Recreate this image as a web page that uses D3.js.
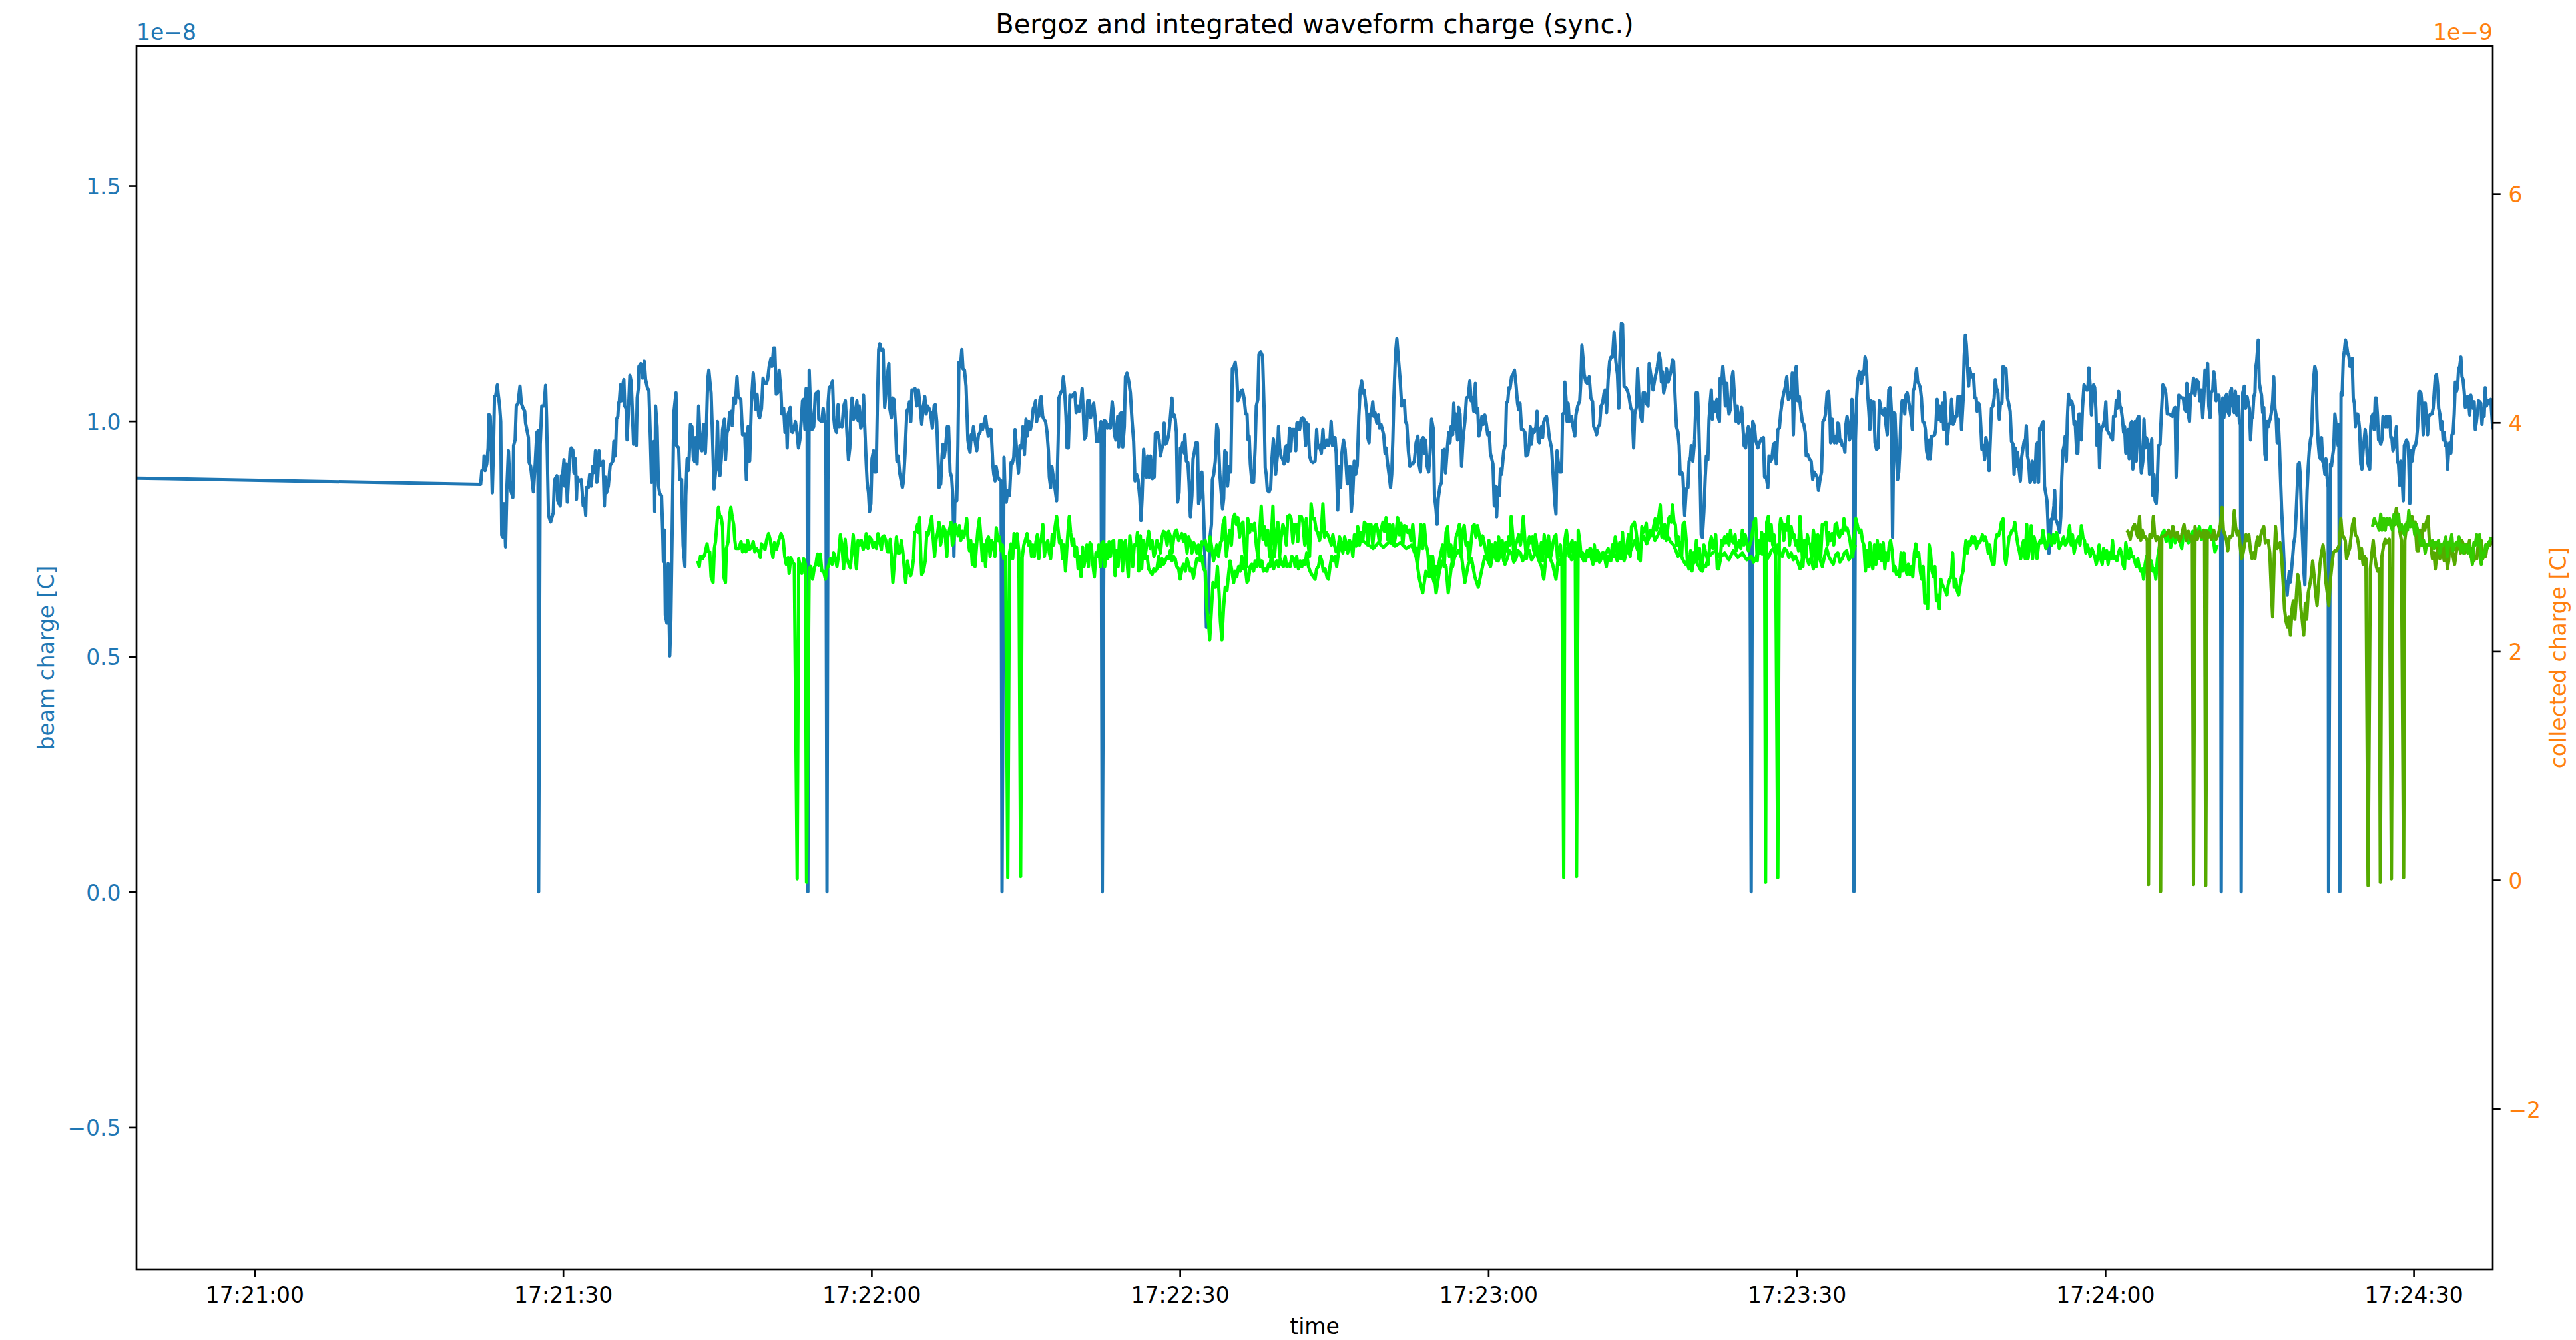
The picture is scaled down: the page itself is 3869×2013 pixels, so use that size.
<!DOCTYPE html>
<html>
<head>
<meta charset="utf-8">
<script src="https://cdn.jsdelivr.net/npm/d3@7"></script>
<style>
  html, body { margin: 0; padding: 0; background: #ffffff; }
  svg { display: block; font-family: "DejaVu Sans", sans-serif; }
</style>
</head>
<body>
<svg id="chart" width="3869" height="2013"></svg>
<script>
// ---------------------------------------------------------------
// Samples: [seconds after 17:21:00, charge]
// Bergoz beam charge in units of 1e-8 C (left axis)
// ---------------------------------------------------------------
const beamCharge = [
[-11.49,0.879],[21.99,0.866],[22.10,0.895],[22.27,0.898],[22.32,0.926],[22.42,0.895],[22.58,0.909],[22.71,0.943],[22.79,1.014],[22.92,1.010],
[23.01,0.943],[23.12,0.848],[23.24,0.948],[23.33,1.052],[23.46,1.055],[23.61,1.077],[23.68,1.060],[23.83,1.032],[23.94,0.999],[24.04,0.758],
[24.15,0.754],[24.26,0.825],[24.41,0.733],[24.54,0.859],[24.69,0.937],[24.84,0.859],[25.12,0.838],[25.19,0.948],[25.34,0.960],[25.45,1.032],
[25.62,1.038],[25.81,1.074],[25.94,1.038],[26.12,1.027],[26.27,1.021],[26.35,0.996],[26.63,0.965],[26.70,0.912],[26.85,0.904],[27.11,0.850],
[27.28,0.906],[27.45,0.976],[27.56,0.979],[27.62,0],[27.78,0.951],[27.93,1.032],[28.14,1.032],[28.30,1.076],[28.40,1.004],[28.58,0.800],
[28.79,0.786],[29.05,0.806],[29.16,0.875],[29.40,0.884],[29.48,0.831],[29.72,0.820],[29.83,0.884],[29.94,0.881],[30.09,0.918],[30.15,0.862],
[30.30,0.909],[30.41,0.828],[30.56,0.892],[30.69,0.937],[30.80,0.943],[30.95,0.938],[31.06,0.890],[31.21,0.920],[31.30,0.834],[31.38,0.881],
[31.49,0.876],[31.64,0.873],[31.77,0.876],[31.96,0.820],[32.07,0.836],[32.20,0.800],[32.27,0.859],[32.46,0.859],[32.59,0.887],[32.74,0.862],
[32.89,0.904],[33.02,0.891],[33.15,0.937],[33.28,0.870],[33.37,0.881],[33.50,0.937],[33.61,0.906],[33.76,0.909],[33.89,0.915],[34.02,0.820],
[34.12,0.881],[34.23,0.848],[34.40,0.862],[34.58,0.906],[34.84,0.915],[34.94,0.957],[35.09,0.926],[35.20,1.004],[35.33,1.010],[35.40,1.038],
[35.48,1.043],[35.59,1.077],[35.66,1.043],[35.76,1.071],[35.91,1.088],[36.00,1.032],[36.13,1.027],[36.22,0.960],[36.35,1.015],[36.50,1.097],
[36.63,1.083],[36.86,0.951],[36.99,0.960],[37.12,0.948],[37.21,1.049],[37.32,1.069],[37.38,1.116],[37.56,1.122],[37.75,1.091],[37.90,1.127],
[38.03,1.088],[38.22,1.069],[38.35,1.066],[38.50,0.960],[38.61,0.870],[38.72,0.954],[38.85,0.957],[38.92,0.808],[39.00,1.032],[39.15,0.988],
[39.28,0.864],[39.41,0.845],[39.58,0.842],[39.69,0.769],[39.76,0.702],[39.86,0.769],[39.95,0.588],[40.10,0.571],[40.23,0.697],[40.38,0.501],
[40.49,0.579],[40.66,0.836],[40.77,1.015],[40.88,1.038],[40.99,1.060],[41.05,0.948],[41.25,0.943],[41.35,0.876],[41.53,0.876],[41.68,0.736],
[41.85,0.691],[41.94,0.842],[42.07,0.920],[42.17,0.895],[42.26,0.920],[42.39,0.993],[42.54,0.988],[42.67,0.923],[42.78,0.915],[42.87,0.965],
[43.04,0.909],[43.19,1.032],[43.36,0.943],[43.51,0.937],[43.69,0.993],[43.84,0.932],[43.95,0.990],[44.07,1.088],[44.18,1.108],[44.29,1.083],
[44.40,1.060],[44.55,0.960],[44.68,0.856],[44.81,0.887],[44.92,0.909],[45.02,0.999],[45.13,0.904],[45.26,0.884],[45.41,0.926],[45.52,0.982],
[45.69,1.004],[45.80,0.918],[45.95,0.976],[46.06,0.982],[46.21,1.018],[46.38,1.021],[46.45,0.990],[46.60,1.049],[46.77,1.038],[46.92,1.094],
[47.03,1.052],[47.29,1.046],[47.46,0.971],[47.68,0.973],[47.83,0.876],[48.00,0.988],[48.15,0.915],[48.33,1.043],[48.50,1.102],[48.65,1.055],
[48.76,1.024],[48.87,1.057],[49.04,1.010],[49.12,1.007],[49.30,1.027],[49.45,1.091],[49.58,1.080],[49.77,1.080],[49.90,1.088],[50.05,1.116],
[50.22,1.133],[50.33,1.116],[50.48,1.155],[50.59,1.155],[50.74,1.057],[50.87,1.060],[51.02,1.108],[51.20,1.060],[51.28,1.015],[51.46,1.027],
[51.59,0.976],[51.71,1.010],[51.80,0.943],[51.89,1.015],[52.10,1.029],[52.21,0.979],[52.32,0.976],[52.43,0.982],[52.60,0.999],[52.75,0.976],
[52.90,0.943],[53.03,0.960],[53.18,1.004],[53.29,1.043],[53.40,1.046],[53.53,0.982],[53.64,1.069],[53.74,0.982],[53.81,0],[53.94,1.108],
[54.05,1.038],[54.22,0.982],[54.38,0.988],[54.53,1.057],[54.66,1.060],[54.81,1.063],[54.87,1.004],[55.02,1.001],[55.17,0.999],[55.30,1.027],
[55.45,0.999],[55.56,0.999],[55.67,0],[55.78,1.038],[55.89,1.071],[56.04,1.074],[56.21,1.085],[56.32,1.010],[56.43,0.985],[56.60,0.976],
[56.75,1.035],[56.86,0.988],[57.01,0.990],[57.14,0.988],[57.29,1.032],[57.46,1.043],[57.61,0.976],[57.76,0.918],[57.89,0.943],[58.00,1.021],
[58.11,1.049],[58.26,1.004],[58.41,1.015],[58.58,1.043],[58.69,1.001],[58.80,1.032],[58.95,0.985],[59.12,0.993],[59.23,1.055],[59.34,0.990],
[59.49,0.909],[59.58,0.870],[59.71,0.848],[59.81,0.808],[59.94,0.825],[60.05,0.920],[60.20,0.937],[60.31,0.892],[60.46,0.892],[60.57,1.032],
[60.70,1.152],[60.81,1.164],[60.96,1.150],[61.13,1.152],[61.28,1.029],[61.39,1.055],[61.52,1.094],[61.69,1.122],[61.78,1.027],[61.93,1.007],
[62.04,1.049],[62.19,1.046],[62.34,0.988],[62.47,0.915],[62.60,0.926],[62.73,0.892],[62.86,0.876],[63.01,0.859],[63.12,0.873],[63.27,0.932],
[63.44,1.021],[63.59,1.027],[63.70,1.041],[63.83,0.999],[63.94,1.066],[64.09,1.066],[64.24,1.069],[64.41,1.032],[64.56,1.066],[64.74,1.029],
[64.89,0.993],[65.02,1.027],[65.19,1.052],[65.32,1.015],[65.45,1.032],[65.60,1.027],[65.75,1.018],[65.92,0.985],[66.10,1.032],[66.20,1.035],
[66.35,0.999],[66.57,0.859],[66.74,0.867],[66.87,0.926],[66.96,0.951],[67.07,0.923],[67.22,0.948],[67.37,0.988],[67.50,0.988],[67.65,0.892],
[67.80,0.881],[67.93,0.836],[68.02,0.713],[68.12,0.831],[68.30,0.831],[68.41,0.948],[68.51,1.125],[68.66,1.116],[68.79,1.152],[68.90,1.111],
[69.05,1.108],[69.20,1.074],[69.38,0.960],[69.48,0.943],[69.59,0.934],[69.70,0.971],[69.81,0.962],[69.92,0.988],[70.07,0.960],[70.24,0.937],
[70.41,0.971],[70.56,0.976],[70.67,0.993],[70.80,0.982],[70.95,0.996],[71.10,1.010],[71.21,0.990],[71.36,0.968],[71.54,0.982],[71.64,0.982],
[71.82,0.904],[71.90,0.887],[72.03,0.873],[72.12,0.904],[72.31,0.881],[72.44,0.876],[72.61,0.873],[72.70,0],[72.89,0.923],[73.00,0.848],
[73.11,0.828],[73.26,0.853],[73.43,0.842],[73.58,0.912],[73.69,0.909],[73.84,0.923],[73.97,0.982],[74.12,0.937],[74.30,0.890],[74.45,0.948],
[74.60,0.943],[74.73,0.988],[74.88,0.929],[75.03,1.004],[75.16,0.968],[75.31,0.999],[75.46,0.982],[75.59,0.996],[75.74,1.027],[75.85,1.032],
[75.96,1.043],[76.07,0.999],[76.18,1.018],[76.28,1.010],[76.39,1.046],[76.50,1.052],[76.65,1.010],[76.78,1.004],[76.93,0.999],[77.08,0.976],
[77.21,0.937],[77.30,0.881],[77.43,0.859],[77.54,0.904],[77.69,0.881],[77.84,0.859],[78.01,0.831],[78.16,0.960],[78.23,1.049],[78.40,1.060],
[78.55,1.066],[78.66,1.094],[78.77,1.071],[78.92,1.010],[79.02,0.943],[79.15,0.943],[79.30,1.055],[79.48,1.052],[79.63,1.057],[79.78,1.060],
[79.91,1.018],[80.06,1.032],[80.21,1.021],[80.38,1.043],[80.49,1.069],[80.60,1.021],[80.71,0.962],[80.86,0.968],[81.03,1.043],[81.18,1.043],
[81.31,1.007],[81.46,1.027],[81.61,1.038],[81.74,1.010],[81.89,0.957],[82.07,0.957],[82.22,0.985],[82.33,0.999],[82.45,0],[82.65,1.001],
[82.80,0.999],[82.93,0.985],[83.08,0.993],[83.23,0.985],[83.41,1.041],[83.51,1.021],[83.62,0.971],[83.77,0.960],[83.95,1.010],[84.05,0.945],
[84.16,1.015],[84.31,1.018],[84.44,0.945],[84.59,0.988],[84.70,1.094],[84.85,1.102],[85.02,1.085],[85.18,1.060],[85.35,0.999],[85.50,0.957],
[85.63,0.873],[85.78,0.887],[85.93,0.876],[86.10,0.836],[86.21,0.789],[86.32,0.836],[86.47,0.940],[86.64,0.887],[86.75,0.881],[86.86,0.926],
[87.01,0.881],[87.14,0.926],[87.33,0.878],[87.50,0.881],[87.61,0.974],[87.83,0.976],[87.98,0.960],[88.11,0.926],[88.26,0.943],[88.37,0.951],
[88.47,0.996],[88.58,0.951],[88.73,0.954],[88.91,0.971],[89.06,1.004],[89.23,1.049],[89.34,1.010],[89.45,1.013],[89.55,1.004],[89.66,0.976],
[89.77,0.828],[89.92,0.848],[90.05,0.943],[90.16,0.937],[90.27,0.954],[90.42,0.932],[90.48,0.971],[90.63,0.915],[90.78,0.912],[90.89,0.870],
[91.02,0.797],[91.17,0.842],[91.28,0.920],[91.39,0.932],[91.56,0.954],[91.71,0.954],[91.82,0.825],[91.93,0.836],[92.04,0.887],[92.14,0.892],
[92.25,0.842],[92.36,0.769],[92.47,0.669],[92.58,0.562],[92.75,0.593],[92.90,0.747],[93.07,0.781],[93.16,0.876],[93.29,0.887],[93.44,0.915],
[93.59,0.993],[93.70,0.982],[93.87,0.892],[93.98,0.859],[94.15,0.814],[94.26,0.836],[94.37,0.937],[94.52,0.932],[94.63,0.862],[94.80,0.904],
[94.95,0.892],[95.10,1.111],[95.23,1.113],[95.38,1.125],[95.53,1.097],[95.64,1.043],[95.81,1.052],[95.92,1.063],[96.09,1.066],[96.24,1.049],
[96.40,1.015],[96.53,1.015],[96.63,0.960],[96.74,0.968],[96.85,0.909],[97.00,0.870],[97.17,0.870],[97.32,0.943],[97.43,1.032],[97.58,1.046],
[97.69,1.141],[97.86,1.147],[98.04,1.138],[98.19,1.027],[98.30,0.901],[98.40,0.887],[98.51,0.853],[98.68,0.850],[98.83,0.859],[98.94,0.915],
[99.09,0.962],[99.20,0.937],[99.31,0.887],[99.48,0.926],[99.59,0.988],[99.70,0.943],[99.85,0.923],[99.98,0.920],[100.13,0.909],[100.24,0.943],
[100.37,0.948],[100.50,0.915],[100.67,0.985],[100.78,0.937],[100.89,0.982],[101.14,0.982],[101.27,0.937],[101.38,0.996],[101.53,0.996],[101.64,0.982],
[101.79,1.004],[101.92,1.007],[102.07,1.004],[102.22,0.948],[102.33,0.996],[102.46,0.993],[102.61,0.926],[102.76,0.915],[102.94,0.912],[103.15,0.915],
[103.30,0.982],[103.41,0.943],[103.58,0.948],[103.76,0.932],[103.91,0.982],[104.02,0.943],[104.17,0.948],[104.30,0.960],[104.45,0.948],[104.60,0.960],
[104.71,0.999],[104.84,0.948],[104.94,0.965],[105.09,0.965],[105.20,0.932],[105.35,0.811],[105.48,0.904],[105.63,0.859],[105.74,0.929],[105.91,0.960],
[106.07,0.940],[106.17,0.904],[106.28,0.867],[106.39,0.901],[106.54,0.904],[106.67,0.808],[106.82,0.848],[106.95,0.915],[107.10,0.887],[107.25,0.906],
[107.40,1.010],[107.53,1.066],[107.68,1.085],[107.79,1.060],[107.90,1.066],[108.01,1.049],[108.16,1.021],[108.27,0.965],[108.40,0.954],[108.48,1.015],
[108.61,1.013],[108.76,1.041],[108.87,1.010],[108.98,1.018],[109.15,0.996],[109.30,1.013],[109.41,0.985],[109.56,0.993],[109.69,0.982],[109.82,0.971],
[109.95,0.932],[110.06,0.943],[110.17,0.915],[110.34,0.887],[110.49,0.859],[110.60,0.887],[110.71,0.960],[110.81,1.049],[110.97,1.144],[111.10,1.175],
[111.25,1.133],[111.42,1.088],[111.57,1.032],[111.68,1.043],[111.83,1.043],[111.94,0.999],[112.07,0.993],[112.22,0.937],[112.37,0.904],[112.50,0.909],
[112.65,0.909],[112.80,0.915],[112.97,0.954],[113.15,0.968],[113.25,0.909],[113.40,0.892],[113.51,0.960],[113.66,0.965],[113.79,0.932],[113.90,0.960],
[114.05,0.904],[114.20,0.892],[114.35,0.937],[114.48,1.004],[114.66,0.982],[114.76,0.842],[114.91,0.814],[115.02,0.781],[115.13,0.836],[115.30,0.862],
[115.45,0.870],[115.56,0.937],[115.71,0.940],[115.84,0.890],[115.99,0.937],[116.15,0.976],[116.27,0.954],[116.38,0.988],[116.53,0.971],[116.64,1.038],
[116.75,0.982],[116.86,1.015],[117.01,0.960],[117.12,1.029],[117.25,1.015],[117.40,0.904],[117.55,0.965],[117.72,0.999],[117.87,1.049],[118.05,1.052],
[118.20,1.085],[118.33,1.043],[118.48,1.049],[118.58,1.021],[118.74,1.080],[118.84,1.018],[118.97,1.027],[119.08,0.968],[119.23,0.982],[119.38,1.010],
[119.51,0.993],[119.66,1.013],[119.81,0.993],[119.94,0.971],[120.09,0.976],[120.20,0.932],[120.45,0.909],[120.58,0.820],[120.71,0.862],[120.81,0.797],
[120.92,0.859],[121.07,0.842],[121.18,0.898],[121.29,0.887],[121.50,0.937],[121.66,0.951],[121.76,1.038],[121.89,1.043],[122.00,1.071],[122.11,1.069],
[122.26,1.094],[122.41,1.099],[122.54,1.108],[122.69,1.077],[122.84,1.038],[122.95,1.024],[123.08,1.038],[123.23,0.982],[123.38,0.982],[123.56,0.976],
[123.66,0.926],[123.84,0.929],[123.99,0.954],[124.09,0.988],[124.20,0.951],[124.31,0.982],[124.46,0.976],[124.63,0.988],[124.74,1.021],[124.85,0.960],
[124.96,0.954],[125.07,0.982],[125.17,0.988],[125.28,0.965],[125.39,0.999],[125.50,1.004],[125.65,1.010],[125.76,0.999],[125.93,0.965],[126.15,0.943],
[126.30,0.887],[126.47,0.825],[126.58,0.803],[126.68,0.937],[126.79,0.915],[126.94,0.892],[127.12,0.892],[127.22,1.015],[127.38,1.018],[127.44,1.083],
[127.55,1.049],[127.66,0.999],[127.76,1.038],[127.87,0.999],[128.09,1.010],[128.24,0.988],[128.41,0.968],[128.52,1.013],[128.69,1.032],[128.89,1.043],
[128.99,1.083],[129.10,1.161],[129.21,1.133],[129.32,1.099],[129.49,1.083],[129.64,1.080],[129.81,1.094],[129.97,1.049],[130.14,1.041],[130.25,0.988],
[130.40,0.982],[130.53,0.971],[130.68,0.988],[130.83,0.993],[130.96,1.032],[131.11,1.038],[131.26,1.060],[131.37,1.066],[131.50,1.018],[131.65,1.088],
[131.80,1.127],[131.93,1.136],[132.08,1.136],[132.23,1.189],[132.40,1.127],[132.56,1.099],[132.69,1.027],[132.79,1.133],[132.94,1.208],[133.05,1.206],
[133.20,1.074],[133.38,1.071],[133.55,1.063],[133.70,1.049],[133.85,1.027],[133.98,1.024],[134.13,0.943],[134.24,1.015],[134.39,1.029],[134.52,1.111],
[134.67,1.038],[134.82,1.010],[134.95,0.999],[135.06,1.060],[135.21,1.060],[135.36,1.038],[135.53,1.032],[135.64,1.122],[135.75,1.105],[135.86,1.088],
[136.01,1.066],[136.18,1.088],[136.29,1.099],[136.44,1.116],[136.61,1.144],[136.72,1.130],[136.83,1.083],[136.94,1.105],[137.05,1.060],[137.20,1.077],
[137.33,1.111],[137.48,1.083],[137.59,1.091],[137.76,1.105],[137.91,1.130],[138.02,1.127],[138.17,1.049],[138.30,0.988],[138.45,0.976],[138.56,0.948],
[138.66,0.887],[138.79,0.892],[138.92,0.887],[139.10,0.800],[139.25,0.856],[139.42,0.859],[139.53,0.915],[139.66,0.923],[139.74,0.948],[139.89,0.915],
[140.07,0.960],[140.22,1.060],[140.35,1.060],[140.46,1.004],[140.61,0.876],[140.71,0.758],[140.82,0.753],[140.97,0.808],[141.10,0.881],[141.21,0.926],
[141.36,0.918],[141.47,1.004],[141.58,1.038],[141.69,1.066],[141.79,1.004],[141.95,1.041],[142.07,1.021],[142.23,1.046],[142.33,1.010],[142.48,0.999],
[142.55,1.091],[142.70,1.080],[142.81,1.116],[142.94,1.083],[143.05,1.032],[143.20,1.080],[143.30,1.038],[143.41,1.015],[143.56,1.027],[143.69,1.091],
[143.80,1.105],[143.95,1.049],[144.10,0.999],[144.21,1.032],[144.34,0.996],[144.49,0.999],[144.64,1.029],[144.75,0.993],[144.88,0.948],[145.03,0.943],
[145.14,0.971],[145.29,0.988],[145.42,0.982],[145.57,0],[145.72,0.999],[145.89,0.988],[146.00,0.960],[146.22,0.943],[146.37,0.954],[146.54,0.962],
[146.76,0.965],[146.87,0.881],[147.04,0.881],[147.19,0.859],[147.30,0.926],[147.45,0.915],[147.58,0.920],[147.73,0.951],[147.88,0.954],[148.01,0.909],
[148.16,0.982],[148.31,0.985],[148.44,1.018],[148.59,1.043],[148.74,1.060],[148.87,1.071],[149.03,1.094],[149.18,1.046],[149.30,1.060],[149.46,1.049],
[149.56,1.102],[149.67,0.971],[149.82,1.102],[149.95,1.116],[150.10,1.043],[150.25,1.052],[150.38,1.027],[150.54,0.999],[150.69,0.993],[150.82,0.976],
[150.92,0.926],[151.07,0.929],[151.23,0.920],[151.40,0.915],[151.55,0.876],[151.68,0.892],[151.83,0.887],[151.98,0.881],[152.11,0.853],[152.26,0.876],
[152.41,0.892],[152.54,0.999],[152.69,1.004],[152.80,1.015],[152.95,1.060],[153.08,1.063],[153.12,1.055],[153.23,1.004],[153.29,0.954],[153.45,1.004],
[153.55,0.960],[153.66,0.954],[153.77,0.968],[153.88,0.954],[153.99,0.996],[154.09,0.993],[154.20,0.957],[154.31,0.960],[154.42,0.948],[154.57,0.948],
[154.68,0.934],[154.78,0.993],[154.89,1.010],[155.02,0.993],[155.11,0.960],[155.24,0.965],[155.37,1.046],[155.50,0.993],[155.56,0],[155.71,0.960],
[155.82,1.049],[155.93,1.088],[156.08,1.105],[156.19,1.099],[156.29,1.080],[156.40,1.105],[156.53,1.099],[156.64,1.136],[156.75,1.125],[156.90,1.055],
[157.01,1.021],[157.11,0.982],[157.22,1.043],[157.37,1.038],[157.48,1.041],[157.61,0.954],[157.76,0.940],[157.91,0.943],[158.04,1.043],[158.19,1.027],
[158.34,1.015],[158.45,1.013],[158.56,1.027],[158.67,0.993],[158.80,0.971],[158.95,1.066],[159.08,1.071],[159.21,1.018],[159.32,0.753],[159.45,1.018],
[159.55,1.015],[159.70,0.926],[159.81,0.876],[159.92,0.892],[160.03,0.943],[160.14,1.015],[160.24,1.043],[160.40,1.043],[160.50,1.015],[160.61,1.055],
[160.74,1.060],[160.89,1.041],[161.00,1.027],[161.11,1.010],[161.24,0.982],[161.32,1.066],[161.43,1.069],[161.54,1.094],[161.65,1.111],[161.76,1.083],
[161.86,1.080],[162.01,1.071],[162.12,1.049],[162.25,0.999],[162.40,0.996],[162.51,0.982],[162.62,0.937],[162.77,0.920],[162.90,0.960],[162.99,0.920],
[163.12,0.968],[163.27,0.968],[163.42,0.971],[163.52,0.982],[163.65,1.046],[163.81,1.004],[163.91,1.032],[164.06,0.999],[164.17,1.038],[164.30,0.982],
[164.39,1.060],[164.50,1.015],[164.63,0.951],[164.78,0.993],[164.93,0.996],[165.06,1.046],[165.21,0.993],[165.34,0.999],[165.42,1.010],[165.58,1.010],
[165.68,1.052],[165.81,1.038],[165.92,1.052],[166.03,0.982],[166.18,1.043],[166.29,1.138],[166.40,1.183],[166.50,1.161],[166.61,1.116],[166.72,1.074],
[166.83,1.111],[166.94,1.099],[167.04,1.094],[167.19,1.099],[167.32,1.049],[167.45,1.049],[167.54,1.021],[167.69,1.038],[167.80,1.032],[167.91,0.988],
[168.01,0.940],[168.17,0.948],[168.27,0.918],[168.40,0.965],[168.55,0.948],[168.71,0.895],[168.83,0.960],[168.94,1.027],[169.09,1.032],[169.20,1.049],
[169.31,1.088],[169.42,1.071],[169.57,1.060],[169.70,1.004],[169.81,1.038],[169.96,1.038],[170.07,1.116],[170.22,1.113],[170.35,1.111],[170.50,1.049],
[170.61,1.038],[170.76,1.021],[170.89,0.957],[171.04,0.951],[171.14,0.887],[171.25,0.943],[171.36,0.904],[171.47,0.934],[171.62,0.898],[171.75,0.873],
[171.86,0.920],[172.01,0.943],[172.12,0.957],[172.25,0.960],[172.33,0.990],[172.44,0.926],[172.55,0.915],[172.68,0.870],[172.81,0.876],[172.91,0.915],
[173.04,0.881],[173.15,0.870],[173.30,0.948],[173.41,0.954],[173.52,0.870],[173.63,0.985],[173.73,0.982],[173.84,0.993],[173.99,0.999],[174.10,0.862],
[174.23,0.845],[174.34,0.831],[174.42,0.792],[174.53,0.719],[174.64,0.747],[174.75,0.792],[174.88,0.792],[175.01,0.820],[175.09,0.853],[175.18,0.792],
[175.31,0.786],[175.46,0.775],[175.57,0.764],[175.68,0.797],[175.78,0.881],[175.89,0.937],[176.00,0.948],[176.11,0.968],[176.22,0.915],[176.32,1.004],
[176.43,1.057],[176.54,1.035],[176.65,1.043],[176.76,1.041],[176.86,1.032],[176.97,0.993],[177.08,0.999],[177.23,0.932],[177.34,0.932],[177.45,1.015],
[177.55,1.015],[177.68,0.960],[177.79,1.027],[177.94,1.077],[178.05,1.071],[178.16,1.066],[178.31,1.066],[178.42,1.113],[178.53,1.077],[178.66,1.013],
[178.76,1.055],[178.87,1.077],[178.98,1.071],[179.09,1.027],[179.20,0.948],[179.35,0.993],[179.45,0.901],[179.56,0.976],[179.67,0.988],[179.78,0.988],
[179.93,1.004],[180.06,1.041],[180.17,0.982],[180.32,0.976],[180.45,0.971],[180.58,0.965],[180.71,0.960],[180.81,1.010],[180.97,1.010],[181.07,1.043],
[181.18,1.027],[181.31,1.063],[181.44,1.032],[181.55,1.027],[181.68,1.004],[181.79,0.976],[181.89,0.988],[182.00,0.932],[182.11,0.976],[182.22,0.982],
[182.33,0.920],[182.43,0.993],[182.58,0.999],[182.69,0.898],[182.80,0.982],[182.91,0.999],[183.02,0.915],[183.12,1.004],[183.27,1.010],[183.40,0.932],
[183.51,0.890],[183.66,0.915],[183.77,1.004],[183.88,0.943],[183.99,0.965],[184.09,0.960],[184.20,0.948],[184.31,0.887],[184.42,0.937],[184.53,0.962],
[184.63,0.842],[184.74,0.887],[184.85,0.831],[184.96,0.825],[185.07,0.870],[185.18,0.948],[185.33,0.951],[185.46,1.015],[185.61,1.077],[185.76,1.071],
[185.89,1.060],[186.04,1.015],[186.19,1.015],[186.37,1.013],[186.54,1.010],[186.69,1.027],[186.80,1.029],[186.90,0.881],[187.06,1.018],[187.16,1.055],
[187.29,1.052],[187.44,1.049],[187.60,1.049],[187.70,1.027],[187.83,1.021],[187.94,1.080],[188.05,1.018],[188.20,0.999],[188.31,1.057],[188.46,1.060],
[188.59,1.091],[188.74,1.055],[188.89,1.088],[189.06,1.083],[189.21,1.043],[189.34,1.066],[189.49,1.007],[189.60,1.049],[189.71,1.108],[189.82,1.077],
[189.97,1.122],[190.08,1.032],[190.21,1.007],[190.31,1.060],[190.47,1.066],[190.57,1.105],[190.68,1.088],[190.79,1.043],[190.94,1.055],[191.07,1.055],
[191.22,1.010],[191.29,0],[191.44,1.049],[191.55,1.007],[191.70,1.052],[191.83,1.057],[191.93,1.021],[192.08,1.013],[192.19,1.063],[192.30,1.069],
[192.41,1.035],[192.56,1.018],[192.67,1.063],[192.80,1.013],[192.95,1.052],[193.06,0.996],[193.16,0.999],[193.23,0],[193.38,1.060],[193.53,1.074],
[193.66,1.027],[193.81,1.052],[193.92,1.038],[194.03,1.027],[194.14,0.960],[194.24,1.004],[194.35,1.010],[194.46,1.052],[194.57,1.060],[194.63,1.111],
[194.74,1.127],[194.89,1.172],[195.00,1.080],[195.11,1.066],[195.21,1.055],[195.32,1.018],[195.43,1.029],[195.54,0.929],[195.65,0.918],[195.75,0.999],
[195.86,0.988],[195.97,0.999],[196.08,1.007],[196.19,1.021],[196.29,1.043],[196.40,1.094],[196.51,1.027],[196.62,1.013],[196.73,0.954],[196.83,1.004],
[196.94,0.954],[197.05,0.881],[197.16,0.814],[197.26,0.769],[197.37,0.713],[197.48,0.658],[197.59,0.658],[197.70,0.630],[197.80,0.658],[197.91,0.680],
[198.02,0.658],[198.13,0.685],[198.24,0.713],[198.34,0.741],[198.45,0.753],[198.56,0.797],[198.67,0.853],[198.78,0.909],[198.88,0.912],[198.99,0.881],
[199.10,0.797],[199.21,0.741],[199.31,0.685],[199.42,0.652],[199.53,0.769],[199.64,0.853],[199.75,0.904],[199.85,0.937],[199.96,0.960],[200.07,0.971],
[200.18,1.049],[200.29,1.094],[200.39,1.116],[200.50,1.105],[200.61,1.004],[200.72,0.954],[200.83,0.926],[200.93,0.920],[201.04,0.965],[201.15,0.915],
[201.26,0.909],[201.37,0.887],[201.47,0.920],[201.58,0.881],[201.69,0.859],[201.73,0],[201.91,0.909],[202.01,0.904],[202.12,0.926],[202.23,0.943],
[202.34,1.015],[202.45,0.993],[202.55,0.971],[202.66,0.948],[202.73,0.993],[202.83,0],[202.94,1.060],[203.05,1.055],[203.16,1.133],[203.27,1.150],
[203.37,1.172],[203.48,1.161],[203.59,1.144],[203.70,1.138],[203.80,1.116],[203.91,1.127],[204.02,1.133],[204.13,1.049],[204.24,1.038],[204.34,0.988],
[204.45,1.015],[204.56,1.015],[204.67,0.999],[204.75,0.982],[204.86,0.909],[204.97,0.898],[205.08,0.937],[205.19,0.960],[205.29,0.982],[205.40,0.960],
[205.51,0.915],[205.62,0.904],[205.73,0.898],[205.83,0.988],[205.94,1.010],[206.05,1.015],[206.16,0.982],[206.27,1.049],[206.37,1.049],[206.48,1.013],
[206.59,0.960],[206.70,0.960],[206.80,0.951],[206.91,0.960],[207.02,1.010],[207.13,1.004],[207.24,0.988],[207.34,1.010],[207.45,0.988],[207.56,1.010],
[207.67,1.010],[207.78,0.965],[207.88,0.965],[207.99,0.937],[208.10,0.948],[208.21,0.962],[208.32,0.988],[208.42,0.915],[208.53,0.909],[208.64,0.864],
[208.75,0.915],[208.86,0.892],[208.99,0.831],[209.09,0.948],[209.20,0.954],[209.31,0.960],[209.42,0.954],[209.52,0.920],[209.63,0.825],[209.74,0.937],
[209.85,0.915],[209.96,0.937],[210.06,0.948],[210.17,0.948],[210.28,0.960],[210.39,0.988],[210.50,1.060],[210.60,1.063],[210.71,1.060],[210.82,1.032],
[210.93,0.971],[211.03,1.038],[211.14,1.038],[211.25,1.004],[211.36,0.971],[211.47,1.010],[211.57,1.013],[211.68,1.015],[211.79,1.015],[211.90,1.027],
[212.01,1.063],[212.11,1.094],[212.22,1.099],[212.33,1.077],[212.44,1.027],[212.55,1.015],[212.65,0.982],[212.76,0.999],[212.87,0.960],[212.98,0.976],
[213.09,0.948],[213.19,0.954],[213.30,0.898],[213.41,0.937],[213.52,0.954],[213.63,0.932],[213.73,0.971],[213.84,0.973],[213.95,1.015],[214.06,1.083],
[214.17,1.063],[214.27,1.071],[214.38,1.111],[214.49,1.116],[214.60,1.136],[214.71,1.094],[214.81,1.088],[214.92,1.063],[215.03,1.029],[215.14,1.035],
[215.25,1.052],[215.35,1.043],[215.46,1.013],[215.57,1.055],[215.68,1.038],[215.79,1.027],[215.89,1.041],[216.00,0.982],[216.11,0.999],[216.22,1.021],
[216.33,1.043],[216.43,1.041],[216.54,1.038],[216.65,0.993],[216.76,1.027],[216.86,1.010],[216.97,1.071],[217.08,1.032],[217.19,1.038],[217.30,1.043],
[217.40,1.038],[217.51,1.046],[217.70,0.982]
];

// Integrated waveform charge in units of 1e-9 C (right axis), main run
const collectedMain = [
[43.10,2.79],[43.25,2.74],[43.36,2.83],[43.58,2.81],[43.79,2.85],[44.01,2.94],[44.12,2.87],[44.27,2.87],[44.40,2.65],[44.59,2.60],
[44.72,2.90],[44.83,2.96],[44.98,3.13],[45.11,3.26],[45.26,3.17],[45.37,3.18],[45.52,3.09],[45.63,2.65],[45.80,2.60],[45.89,2.90],
[46.06,2.96],[46.19,3.18],[46.32,3.26],[46.45,3.18],[46.60,3.11],[46.71,2.97],[46.81,2.90],[47.10,2.90],[47.31,2.96],[47.46,2.87],
[47.61,2.93],[47.79,2.87],[47.96,2.97],[48.11,2.89],[48.33,2.91],[48.50,2.96],[48.65,2.87],[48.82,2.90],[49.04,2.87],[49.19,2.82],
[49.30,2.94],[49.51,2.91],[49.64,2.89],[49.81,2.98],[49.99,3.03],[50.16,2.97],[50.33,2.86],[50.42,2.82],[50.55,2.95],[50.76,2.89],
[50.98,2.97],[51.20,3.03],[51.41,2.98],[51.56,2.83],[51.71,2.76],[51.89,2.82],[51.99,2.68],[52.15,2.82],[52.32,2.78],[52.49,2.76],
[52.77,0.01],[52.92,2.81],[53.07,2.74],[53.22,2.68],[53.40,2.81],[53.57,2.76],[53.68,-0.02],[53.94,2.72],[54.09,2.74],[54.27,2.63],
[54.44,2.73],[54.59,2.76],[54.74,2.85],[54.87,2.75],[55.02,2.85],[55.17,2.70],[55.35,2.70],[55.52,2.63],[55.67,2.72],[55.82,2.75],
[55.99,2.81],[56.17,2.76],[56.32,2.86],[56.49,2.81],[56.64,2.74],[56.81,2.85],[56.97,3.02],[57.12,2.93],[57.29,2.72],[57.44,2.98],
[57.61,2.81],[57.79,2.76],[57.94,2.73],[58.09,2.87],[58.22,3.02],[58.37,2.86],[58.54,2.72],[58.69,2.97],[58.84,2.93],[59.02,2.97],
[59.19,2.89],[59.34,2.93],[59.49,3.03],[59.66,2.90],[59.81,3.00],[59.99,2.98],[60.14,2.91],[60.31,2.95],[60.48,2.90],[60.63,3.03],
[60.81,2.96],[60.96,2.89],[61.07,3.00],[61.22,3.01],[61.39,2.97],[61.54,2.87],[61.71,2.87],[61.82,2.98],[61.95,2.81],[62.08,2.60],
[62.25,2.81],[62.43,3.00],[62.58,2.86],[62.73,2.86],[62.90,2.97],[63.05,2.87],[63.18,2.74],[63.33,2.60],[63.51,2.79],[63.66,2.70],
[63.81,2.66],[63.94,2.70],[64.09,2.81],[64.20,3.04],[64.35,3.05],[64.48,3.11],[64.58,3.04],[64.69,3.17],[64.80,2.83],[64.89,2.67],
[65.06,2.70],[65.23,2.79],[65.38,3.04],[65.53,3.02],[65.71,3.11],[65.86,3.18],[65.99,3.00],[66.14,2.83],[66.29,2.98],[66.44,3.04],
[66.57,3.13],[66.72,2.93],[66.87,3.00],[67.00,3.09],[67.15,3.06],[67.33,2.83],[67.43,3.00],[67.58,3.06],[67.74,3.13],[67.87,2.93],
[68.02,2.97],[68.15,3.11],[68.30,3.06],[68.43,3.01],[68.56,3.10],[68.69,2.97],[68.84,3.05],[68.99,3.00],[69.12,3.05],[69.27,3.16],
[69.38,3.00],[69.53,2.88],[69.66,2.97],[69.81,2.76],[69.96,2.93],[70.07,2.74],[70.20,2.90],[70.35,3.06],[70.50,3.16],[70.67,2.97],
[70.80,2.79],[70.95,2.93],[71.10,2.74],[71.23,2.97],[71.38,3.00],[71.54,2.83],[71.69,2.97],[71.86,2.93],[72.01,2.83],[72.14,3.08],
[72.29,2.97],[72.44,3.00],[72.61,2.88],[72.74,2.93],[72.87,2.81],[73.05,2.83],[73.26,0.02],[73.43,2.86],[73.58,2.94],[73.74,2.81],
[73.87,3.03],[74.02,2.91],[74.17,3.03],[74.34,2.86],[74.51,0.03],[74.66,2.82],[74.82,2.93],[74.99,2.98],[75.14,3.03],[75.27,2.93],
[75.42,2.96],[75.57,2.83],[75.70,2.93],[75.85,2.83],[76.00,2.96],[76.13,3.02],[76.28,2.81],[76.39,2.94],[76.54,3.00],[76.67,3.11],
[76.82,2.83],[76.97,2.93],[77.15,2.97],[77.30,2.86],[77.43,2.81],[77.58,3.02],[77.73,2.93],[77.86,3.09],[78.01,3.18],[78.16,3.06],
[78.29,2.95],[78.44,2.97],[78.59,2.81],[78.72,2.93],[78.87,2.70],[79.02,2.93],[79.13,3.06],[79.24,3.18],[79.37,3.04],[79.52,2.93],
[79.67,2.98],[79.80,2.83],[79.95,2.91],[80.10,2.72],[80.26,2.83],[80.38,2.65],[80.54,2.91],[80.66,2.74],[80.82,2.83],[80.95,2.93],
[81.10,2.74],[81.25,2.95],[81.38,2.93],[81.53,2.76],[81.68,2.65],[81.83,2.86],[81.96,2.83],[82.11,2.93],[82.26,2.74],[82.41,2.95],
[82.54,2.96],[82.69,2.74],[82.82,2.93],[82.98,2.81],[83.12,2.96],[83.25,2.83],[83.41,2.96],[83.56,2.97],[83.69,2.66],[83.84,2.88],
[83.99,2.74],[84.12,2.97],[84.27,2.97],[84.42,2.70],[84.55,2.93],[84.70,2.97],[84.85,2.79],[84.98,2.65],[85.13,3.01],[85.28,2.88],
[85.41,2.74],[85.56,2.93],[85.72,2.93],[85.87,3.04],[86.00,2.70],[86.15,3.01],[86.28,2.72],[86.43,2.97],[86.58,2.81],[86.96,3.05],
[87.11,2.90],[87.29,2.97],[87.46,2.83],[87.61,2.87],[87.76,2.97],[87.94,2.93],[88.11,2.86],[88.26,3.00],[88.41,3.05],[88.58,3.04],
[88.76,2.93],[88.91,3.05],[89.06,3.01],[89.23,2.86],[89.38,2.98],[89.55,3.05],[89.70,3.06],[89.88,2.97],[90.03,3.00],[90.20,3.03],
[90.35,2.96],[90.53,3.02],[90.70,2.86],[90.85,3.00],[91.02,2.96],[91.17,2.86],[91.35,2.95],[91.50,2.93],[91.65,2.86],[91.82,2.93],
[91.99,2.83],[92.14,2.96],[92.30,2.94],[92.47,2.97],[92.64,2.89],[92.79,2.88],[92.94,3.00],[93.12,2.89],[93.27,2.79],[93.44,2.85],
[93.59,2.93],[93.76,2.83],[93.94,2.95],[94.09,2.97],[94.19,3.11],[94.37,3.17],[94.52,2.83],[94.67,2.95],[94.84,3.06],[95.01,2.93],
[95.17,3.16],[95.34,3.20],[95.49,3.11],[95.64,3.17],[95.81,3.00],[95.96,3.11],[96.14,3.13],[96.29,2.88],[96.46,2.74],[96.61,3.16],
[96.78,3.04],[96.94,3.11],[97.11,3.06],[97.26,3.12],[97.43,2.93],[97.58,2.83],[97.76,3.04],[97.91,3.27],[98.08,2.98],[98.23,3.09],
[98.40,2.93],[98.55,3.06],[98.73,2.83],[98.88,2.97],[99.05,3.27],[99.20,2.83],[99.37,3.02],[99.53,3.13],[99.70,2.83],[99.85,3.00],
[100.02,3.11],[100.17,3.06],[100.35,2.93],[100.50,3.18],[100.67,3.19],[100.82,3.16],[100.99,2.95],[101.14,3.11],[101.32,3.11],[101.47,2.96],
[101.64,3.18],[101.81,3.18],[101.96,3.13],[102.14,2.93],[102.29,3.16],[102.46,2.95],[102.61,2.83],[102.76,3.29],[102.94,3.16],[103.09,3.16],
[103.26,3.06],[103.41,3.04],[103.58,2.97],[103.76,3.06],[103.91,3.29],[104.06,3.00],[104.23,3.04],[104.38,3.02],[104.55,2.98],[104.73,2.93],
[104.88,3.02],[105.03,2.93],[105.20,2.87],[105.37,2.90],[105.53,3.00],[105.70,2.94],[105.85,2.86],[106.02,3.00],[106.17,2.95],[106.32,2.86],
[106.50,2.97],[106.67,2.93],[106.82,2.83],[106.97,3.02],[107.14,2.93],[107.30,3.09],[107.47,2.93],[107.62,3.04],[107.79,2.97],[107.94,3.13],
[108.12,3.11],[108.27,2.93],[108.44,3.11],[108.59,3.11],[108.76,2.93],[108.91,3.09],[109.09,3.11],[109.24,3.06],[109.41,2.95],[109.56,3.06],
[109.74,3.13],[109.89,3.05],[110.06,3.17],[110.21,2.98],[110.38,3.11],[110.53,2.95],[110.71,3.11],[110.86,2.95],[111.03,3.04],[111.18,3.17],
[111.35,3.02],[111.50,3.12],[111.68,2.93],[111.83,3.10],[112.00,3.09],[112.15,3.04],[112.32,3.06],[112.48,2.97],[112.65,3.11],[112.80,2.93],
[112.97,2.88],[113.12,2.76],[113.30,2.93],[113.45,3.11],[113.62,2.90],[113.77,3.11],[113.94,2.93],[114.10,2.88],[114.27,2.70],[114.42,2.83],
[114.59,2.65],[114.74,2.60],[114.92,2.74],[115.07,2.67],[115.24,2.79],[115.39,2.86],[115.56,2.93],[115.71,2.74],[115.89,3.04],[116.04,3.09],
[116.21,2.83],[116.36,2.93],[116.53,2.74],[116.68,2.81],[116.86,3.00],[117.01,3.04],[117.18,3.11],[117.33,2.83],[117.51,3.06],[117.66,3.10],
[117.83,2.93],[117.98,2.95],[118.15,2.79],[118.30,2.93],[118.48,3.09],[118.63,3.11],[118.80,3.00],[118.95,3.10],[119.12,3.02],[119.27,2.93],
[119.45,3.01],[119.60,2.95],[119.89,2.81],[120.06,2.97],[120.21,2.79],[120.36,2.93],[120.53,2.83],[120.68,2.95],[120.86,2.79],[121.01,3.00],
[121.18,2.83],[121.35,2.97],[121.50,2.79],[121.68,2.95],[121.83,2.88],[121.98,3.00],[122.11,2.93],[122.22,3.18],[122.37,3.02],[122.50,2.81],
[122.65,2.93],[122.80,2.97],[122.95,3.02],[123.12,2.93],[123.27,3.04],[123.40,3.18],[123.56,2.97],[123.71,2.81],[123.84,2.90],[123.99,3.00],
[124.14,2.95],[124.29,3.00],[124.42,2.88],[124.57,3.02],[124.72,2.93],[124.85,2.86],[125.00,2.79],[125.15,2.95],[125.28,2.79],[125.43,3.02],
[125.58,2.93],[125.71,2.83],[125.86,3.01],[126.02,2.81],[126.15,2.86],[126.30,2.95],[126.43,3.00],[126.58,3.02],[126.73,2.81],[126.86,2.88],
[127.01,2.93],[127.16,2.74],[127.33,0.02],[127.44,2.97],[127.59,3.06],[127.74,2.95],[127.87,2.83],[128.02,2.93],[128.15,2.97],[128.30,2.81],
[128.45,2.95],[128.58,0.03],[128.74,3.06],[128.89,2.97],[129.02,2.83],[129.17,2.86],[129.32,2.83],[129.45,2.79],[129.60,2.88],[129.75,2.83],
[129.88,2.90],[130.03,2.81],[130.18,2.76],[130.31,2.93],[130.46,2.79],[130.61,2.88],[130.74,2.86],[130.89,2.79],[131.04,2.83],[131.20,2.86],
[131.33,2.81],[131.48,2.74],[131.61,2.83],[131.76,2.83],[131.91,2.79],[132.06,2.93],[132.19,2.83],[132.34,3.00],[132.47,2.93],[132.62,2.81],
[132.77,2.95],[132.90,2.81],[133.05,3.04],[133.20,2.79],[133.33,2.83],[133.48,2.93],[133.63,3.02],[133.79,2.83],[133.92,3.09],[134.07,3.11],
[134.20,3.13],[134.35,3.06],[134.50,2.95],[134.63,2.81],[134.78,2.79],[134.93,3.09],[135.06,3.04],[135.21,3.06],[135.36,3.12],[135.49,2.97],
[135.64,3.04],[135.79,3.06],[135.92,3.01],[136.07,3.09],[136.23,3.16],[136.35,3.06],[136.51,3.13],[136.72,3.28],[136.87,3.00],[137.00,3.04],
[137.15,3.11],[137.30,2.97],[137.43,3.06],[137.54,3.16],[137.65,3.18],[137.80,3.13],[137.91,3.28],[138.06,3.13],[138.19,3.11],[138.34,2.93],
[138.49,3.00],[138.66,2.88],[138.81,2.83],[138.94,3.11],[139.10,3.13],[139.25,2.97],[139.38,2.76],[139.53,2.72],[139.68,2.88],[139.81,2.70],
[139.96,2.86],[140.11,2.81],[140.24,2.97],[140.39,2.81],[140.54,2.90],[140.67,2.72],[140.82,2.74],[140.97,2.93],[141.10,2.88],[141.25,2.83],
[141.40,2.76],[141.53,2.93],[141.69,3.00],[141.84,2.90],[141.97,2.93],[142.12,3.02],[142.27,2.72],[142.40,2.72],[142.55,2.79],[142.70,2.97],
[142.83,2.93],[142.98,3.00],[143.13,2.95],[143.26,3.02],[143.41,2.93],[143.56,3.06],[143.69,2.97],[143.84,2.95],[144.00,3.02],[144.13,2.88],
[144.28,2.93],[144.43,2.97],[144.56,2.90],[144.71,3.06],[144.86,2.93],[144.99,3.02],[145.14,2.95],[145.29,2.88],[145.42,2.93],[145.57,2.97],
[145.72,3.06],[145.85,3.13],[146.00,3.16],[146.16,2.79],[146.28,2.97],[146.44,2.86],[146.59,3.04],[146.72,2.88],[146.87,3.02],[146.97,-0.02],
[147.08,3.13],[147.23,3.18],[147.36,2.97],[147.51,3.11],[147.66,2.93],[147.79,3.02],[147.95,2.88],[148.16,0.02],[148.31,3.06],[148.44,3.16],
[148.59,3.11],[148.74,2.97],[148.87,3.11],[149.03,3.06],[149.18,3.18],[149.30,2.93],[149.46,3.09],[149.61,3.00],[149.74,3.02],[149.89,2.93],
[150.04,2.97],[150.17,2.88],[150.32,3.18],[150.47,2.93],[150.60,2.74],[150.75,2.97],[150.90,2.83],[151.03,3.02],[151.18,2.95],[151.33,2.93],
[151.46,2.79],[151.61,3.06],[151.77,2.97],[151.89,2.74],[152.05,3.02],[152.20,2.97],[152.33,2.83],[152.48,3.11],[152.63,3.11],[152.84,3.13],
[152.99,2.93],[153.12,3.04],[153.27,2.97],[153.45,3.03],[153.60,2.93],[153.73,3.11],[153.88,3.12],[154.03,3.02],[154.16,3.00],[154.31,3.06],
[154.46,3.03],[154.59,3.16],[154.74,3.06],[154.89,3.08],[155.02,3.04],[155.17,2.97],[155.32,2.88],[155.45,2.83],[155.60,3.02],[155.75,3.16],
[155.93,3.09],[156.08,3.04],[156.25,3.06],[156.40,2.96],[156.53,2.93],[156.68,2.70],[156.83,2.88],[156.96,2.74],[157.11,2.95],[157.27,2.76],
[157.40,2.72],[157.55,2.93],[157.70,2.76],[157.83,2.97],[157.98,2.81],[158.13,2.93],[158.26,2.79],[158.41,2.95],[158.56,2.72],[158.69,2.86],
[158.84,2.79],[158.99,2.93],[159.12,2.97],[159.27,2.88],[159.42,2.70],[159.55,2.74],[159.70,2.67],[159.86,2.70],[159.99,2.65],[160.14,2.86],
[160.29,2.70],[160.42,2.86],[160.57,2.72],[160.72,2.67],[160.85,2.76],[161.00,2.67],[161.15,2.74],[161.28,2.65],[161.43,2.86],[161.58,2.94],
[161.71,2.83],[161.86,2.86],[162.01,2.70],[162.14,2.63],[162.29,2.74],[162.45,2.42],[162.58,2.49],[162.73,2.37],[162.88,2.93],[163.01,2.86],
[163.16,2.70],[163.31,2.65],[163.44,2.74],[163.59,2.44],[163.74,2.49],[163.87,2.37],[164.02,2.63],[164.17,2.58],[164.30,2.56],[164.45,2.53],
[164.60,2.49],[164.73,2.58],[164.88,2.63],[165.04,2.65],[165.17,2.86],[165.32,2.56],[165.47,2.63],[165.60,2.53],[165.75,2.49],[165.90,2.58],
[166.03,2.65],[166.18,2.70],[166.33,2.86],[166.46,2.97],[166.61,2.86],[166.76,2.96],[166.89,2.93],[167.04,3.00],[167.19,2.95],[167.32,3.00],
[167.48,2.90],[167.63,2.96],[167.76,2.95],[167.91,2.97],[168.06,3.02],[168.19,2.97],[168.34,3.00],[168.49,2.95],[168.62,2.86],[168.77,2.93],
[168.92,2.81],[169.05,2.76],[169.20,2.76],[169.35,2.97],[169.48,3.02],[169.63,3.01],[169.78,3.06],[169.91,3.13],[170.07,3.16],[170.22,2.83],
[170.35,2.76],[170.50,2.88],[170.65,3.00],[170.78,3.02],[170.93,3.06],[171.08,3.06],[171.21,3.13],[171.36,3.02],[171.51,2.93],[171.64,2.88],
[171.79,2.81],[171.94,2.93],[172.07,2.97],[172.22,2.81],[172.37,3.11],[172.50,2.81],[172.66,2.93],[172.81,3.10],[172.94,2.81],[173.09,3.00],
[173.24,2.93],[173.37,2.81],[173.52,2.93],[173.67,2.97],[173.80,2.95],[173.95,3.06],[174.10,2.97],[174.23,2.90],[174.38,2.93],[174.53,3.02],
[174.66,2.97],[174.81,2.93],[174.96,3.02],[175.09,2.95],[175.25,3.04],[175.40,3.00],[175.53,2.90],[175.68,2.93],[175.83,2.97],[175.96,3.00],
[176.11,2.93],[176.26,2.95],[176.39,3.00],[176.54,3.10],[176.69,2.93],[176.82,3.02],[176.97,2.86],[177.12,2.93],[177.25,2.97],[177.40,3.00],
[177.55,2.93],[177.68,3.10],[177.83,3.00],[177.99,2.97],[178.12,2.86],[178.27,2.93],[178.42,2.88],[178.55,2.83],[178.70,2.90],[178.85,2.86],
[178.98,2.83],[179.13,2.76],[179.28,2.83],[179.41,2.93],[179.56,2.81],[179.71,2.76],[179.84,2.90],[180.00,2.81],[180.15,2.88],[180.28,2.76],
[180.43,2.86],[180.58,2.81],[180.71,2.97],[180.86,2.81],[181.01,2.83],[181.14,2.79],[181.29,2.86],[181.44,2.90],[181.57,2.86],[181.72,2.76],
[181.87,2.72],[182.00,2.95],[182.15,2.86],[182.30,2.81],[182.43,2.90],[182.58,2.83],[182.73,2.83],[182.86,2.79],[183.02,2.74],[183.17,2.81],
[183.30,2.74],[183.45,2.70],[183.60,2.72],[183.73,2.63],[183.88,2.76],[184.03,2.83],[184.20,2.81],[184.35,2.76],[184.48,2.79],[184.63,2.70],
[184.79,2.72],[184.92,2.63],[185.07,2.80],[185.29,2.93],[185.50,3.02],[185.72,3.06],[185.93,2.96],[186.15,3.02],[186.37,2.91],[186.58,3.09],
[186.80,2.95],[187.01,3.00],[187.23,2.97],[187.44,2.90],[187.66,3.06],[187.88,3.00],[188.09,2.95],[188.31,2.97],[188.52,3.05],[188.74,3.00],
[188.96,3.03],[189.17,3.09],[189.39,2.98],[189.60,3.02],[189.82,3.06],[190.03,3.00],[190.25,3.09],[190.47,3.02],[190.68,2.87],[190.90,2.93]
];

// Overlapping run of the same integrated charge (1e-9 C)
const collectedOverlap = [
[86.64,2.81],[86.81,2.83],[86.96,2.72],[87.29,2.67],[87.46,2.72],[87.61,2.70],[87.76,2.72],[87.94,2.83],[88.11,2.74],[88.26,2.81],
[88.41,2.76],[88.58,2.79],[88.76,2.83],[88.91,2.81],[89.06,2.88],[89.23,2.79],[89.38,2.83],[89.55,2.81],[89.70,2.74],[89.88,2.72],
[90.03,2.63],[90.20,2.72],[90.35,2.76],[90.53,2.70],[90.70,2.81],[90.85,2.76],[91.02,2.70],[91.17,2.72],[91.32,2.64],[91.50,2.74],
[91.65,2.81],[91.82,2.81],[91.99,2.79],[92.14,2.83],[92.30,2.72],[92.47,2.70],[92.64,2.35],[92.79,2.24],[92.90,2.10],[93.07,2.37],
[93.22,2.60],[93.37,2.56],[93.50,2.56],[93.65,2.74],[93.81,2.51],[93.94,2.26],[94.09,2.10],[94.24,2.37],[94.41,2.56],[94.58,2.53],
[94.73,2.67],[94.88,2.79],[95.06,2.70],[95.23,2.60],[95.38,2.70],[95.53,2.65],[95.71,2.74],[95.88,2.70],[96.03,2.83],[96.18,2.72],
[96.35,2.74],[96.53,2.60],[96.68,2.63],[96.83,2.74],[97.00,2.76],[97.17,2.70],[97.32,2.79],[97.48,2.74],[97.65,2.83],[97.82,2.74],
[97.97,2.79],[98.12,2.70],[98.30,2.72],[98.47,2.70],[98.62,2.76],[98.77,2.74],[98.94,2.88],[99.12,2.72],[99.27,2.76],[99.42,2.79],
[99.59,2.74],[99.76,2.81],[99.91,2.76],[100.06,2.74],[100.24,2.83],[100.39,2.74],[100.56,2.76],[100.71,2.74],[100.89,2.83],[101.06,2.81],
[101.21,2.74],[101.36,2.83],[101.53,2.72],[101.71,2.79],[101.86,2.74],[102.01,2.79],[102.18,2.76],[102.33,2.86],[102.50,2.74],[102.66,2.70],
[102.83,2.67],[102.98,2.65],[103.15,2.63],[103.30,2.72],[103.48,2.74],[103.65,2.83],[103.80,2.79],[103.95,2.70],[104.12,2.72],[104.30,2.65],
[104.45,2.63],[104.60,2.74],[104.77,2.83],[104.94,2.79],[105.09,2.83],[105.25,2.74],[105.42,2.86],[105.59,2.90],[105.74,2.93],[106.07,2.89],
[106.60,2.95],[107.14,2.92],[107.70,2.97],[108.22,2.94],[108.80,2.90],[109.30,2.95],[109.80,2.91],[110.38,2.96],[110.90,2.92],[111.46,2.95],
[112.00,2.90],[112.54,2.93],[112.97,2.83],[113.30,2.63],[113.62,2.51],[113.94,2.70],[114.27,2.65],[114.59,2.83],[114.92,2.51],[115.24,2.70],
[115.56,2.79],[115.89,2.74],[116.10,2.51],[116.43,2.76],[116.75,2.83],[117.07,2.88],[117.40,2.83],[117.72,2.60],[118.05,2.76],[118.37,2.81],
[118.69,2.65],[119.02,2.56],[119.34,2.70],[119.66,2.83],[119.99,2.79],[120.21,2.74],[120.53,2.88],[120.75,2.80],[120.97,2.79],[121.20,2.86],
[121.40,2.83],[121.62,2.76],[121.83,2.81],[122.05,2.88],[122.26,2.86],[122.48,2.78],[122.69,2.81],[122.90,2.88],[123.12,2.86],[123.34,2.79],
[123.56,2.83],[123.78,2.90],[123.99,2.88],[124.20,2.80],[124.42,2.83],[124.63,2.89],[124.85,2.81],[125.17,2.74],[125.39,2.63],[125.61,2.83],
[125.93,2.83],[126.25,2.76],[126.58,2.63],[126.79,2.81],[127.01,2.76],[127.22,2.85],[127.44,2.83],[127.66,2.90],[127.87,2.88],[128.09,2.80],
[128.30,2.83],[128.62,2.90],[128.95,2.86],[129.28,2.79],[129.60,2.83],[129.93,2.90],[130.26,2.84],[130.46,2.86],[130.80,2.78],[131.10,2.86],
[131.33,2.83],[131.65,2.90],[131.95,2.82],[132.19,2.86],[132.55,2.79],[132.80,2.87],[133.05,2.83],[133.40,2.92],[133.70,2.85],[133.92,2.90],
[134.25,2.97],[134.50,2.89],[134.78,2.93],[135.10,3.01],[135.40,2.94],[135.64,3.00],[135.95,3.06],[136.20,2.97],[136.51,3.02],[136.80,3.08],
[137.10,2.99],[137.37,3.02],[137.70,2.96],[138.02,2.93],[138.25,2.88],[138.45,2.83],[138.66,2.86],[138.88,2.81],[139.05,2.78],[139.20,2.76],
[139.36,2.79],[139.53,2.72],[139.70,2.77],[139.85,2.74],[140.02,2.79],[140.18,2.81],[140.34,2.76],[140.50,2.74],[140.66,2.71],[140.82,2.70],
[140.98,2.75],[141.15,2.74],[141.31,2.79],[141.47,2.83],[141.80,2.86],[142.12,2.88],[142.55,2.82],[142.98,2.86],[143.40,2.80],[143.84,2.88],
[144.27,2.82],[144.71,2.86],[145.14,2.80],[145.57,2.83],[145.80,2.78],[146.00,2.81],[146.22,2.86],[146.43,2.93],[146.65,2.85],[146.87,2.88],
[147.08,2.80],[147.30,2.83],[147.51,2.88],[147.73,2.90],[147.95,2.84],[148.16,2.93],[148.38,2.86],[148.59,2.83],[148.81,2.90],[149.03,2.88],
[149.24,2.82],[149.46,2.86],[149.67,2.80],[149.89,2.83],[150.10,2.78],[150.32,2.72],[150.53,2.80],[150.75,2.88],[150.96,2.82],[151.18,2.76],
[151.40,2.82],[151.61,2.72],[151.83,2.80],[152.05,2.88],[152.26,2.80],[152.48,2.74],[152.70,2.83],[152.91,2.90],[153.12,2.83],[153.34,2.79],
[153.55,2.76],[153.77,2.84],[153.99,2.86],[154.20,2.78],[154.42,2.81],[154.63,2.86],[154.85,2.88],[155.06,2.80],[155.28,2.83],[155.50,2.88],
[155.71,2.93]
];

// Later run (1e-9 C)
const collectedLate = [
[182.09,3.06],[182.26,3.04],[182.43,2.98],[182.58,3.05],[182.73,3.09],[182.86,3.11],[183.02,3.04],[183.17,3.00],[183.34,3.18],[183.45,2.97],
[183.60,3.06],[183.77,3.00],[183.92,3.00],[184.09,2.97],[184.21,-0.04],[184.33,3.02],[184.53,3.00],[184.68,3.18],[184.81,3.02],[184.96,2.97],
[185.13,3.00],[185.28,2.99],[185.39,-0.10],[185.50,3.00],[185.72,3.01],[185.93,3.02],[186.15,3.06],[186.37,3.00],[186.58,3.09],[186.80,3.00],
[187.01,3.04],[187.23,2.96],[187.44,3.02],[187.66,3.11],[187.88,2.97],[188.09,3.05],[188.31,2.98],[188.48,3.01],[188.59,-0.04],[188.74,3.09],
[188.96,2.98],[189.17,3.05],[189.39,3.00],[189.60,3.06],[189.67,3.04],[189.78,-0.05],[189.93,3.05],[190.14,3.02],[190.36,2.98],[190.57,3.06],
[190.79,2.98],[191.01,3.02],[191.22,3.11],[191.37,3.26],[191.50,3.06],[191.65,3.02],[191.80,2.97],[191.93,2.88],[192.08,3.00],[192.24,3.00],
[192.41,3.02],[192.56,3.23],[192.69,3.09],[192.84,3.02],[192.99,3.05],[193.12,2.93],[193.27,2.81],[193.42,2.86],[193.55,2.93],[193.70,3.02],
[193.85,2.97],[193.98,3.02],[194.14,2.88],[194.29,2.81],[194.42,2.86],[194.57,2.81],[194.72,2.95],[194.85,3.00],[195.00,2.93],[195.15,3.02],
[195.28,3.06],[195.43,3.09],[195.58,2.95],[195.71,2.97],[195.86,2.97],[196.01,2.86],[196.14,2.56],[196.29,2.30],[196.44,2.81],[196.57,3.09],
[196.73,2.90],[196.88,2.93],[197.01,2.95],[197.16,2.83],[197.31,2.60],[197.44,2.37],[197.59,2.26],[197.74,2.21],[197.87,2.30],[198.02,2.14],
[198.17,2.37],[198.30,2.44],[198.45,2.28],[198.60,2.49],[198.73,2.67],[198.88,2.60],[199.04,2.37],[199.16,2.28],[199.31,2.14],[199.47,2.42],
[199.60,2.28],[199.75,2.51],[199.90,2.58],[200.03,2.65],[200.18,2.79],[200.33,2.65],[200.46,2.51],[200.61,2.40],[200.76,2.60],[200.89,2.76],
[201.04,2.86],[201.19,2.93],[201.32,2.83],[201.47,2.60],[201.63,2.49],[201.75,2.40],[201.91,2.63],[202.06,2.76],[202.19,2.86],[202.34,2.88],
[202.49,2.88],[202.62,2.90],[202.77,2.93],[202.92,3.16],[203.05,3.02],[203.20,3.00],[203.35,2.97],[203.48,2.81],[203.63,2.86],[203.78,2.90],
[203.91,3.00],[204.06,3.11],[204.21,3.16],[204.34,3.02],[204.50,3.00],[204.65,2.93],[204.78,2.81],[204.93,2.90],[205.08,2.76],[205.21,2.83],
[205.36,2.81],[205.57,-0.05],[205.79,2.72],[205.94,2.86],[206.07,2.97],[206.22,2.83],[206.37,2.74],[206.50,2.70],[206.65,2.72],[206.76,-0.02],
[206.91,2.83],[207.09,2.93],[207.24,2.98],[207.37,2.95],[207.63,2.98],[207.84,0.01],[207.99,3.09],[208.16,3.13],[208.32,3.25],[208.49,3.11],
[208.64,3.06],[208.81,2.97],[209.03,0.02],[209.14,2.97],[209.35,3.13],[209.53,3.11],[209.68,3.13],[209.83,3.18],[210.00,3.11],[210.15,3.13],
[210.32,2.88],[210.47,2.88],[210.65,3.06],[210.80,2.95],[210.93,3.11],[211.08,3.06],[211.23,3.13],[211.40,3.18],[211.55,2.93],[211.68,2.93],
[211.83,2.81],[211.99,2.86],[212.11,2.72],[212.27,2.86],[212.42,2.95],[212.55,2.81],[212.70,2.93],[212.85,2.86],[212.98,2.79],[213.13,2.93],
[213.28,2.72],[213.41,2.79],[213.56,2.97],[213.71,2.93],[213.84,2.83],[213.99,2.76],[214.14,2.86],[214.27,2.93],[214.42,2.95],[214.57,2.86],
[214.70,2.97],[214.86,2.93],[215.01,2.86],[215.14,2.93],[215.29,2.88],[215.44,2.97],[215.57,2.83],[215.72,2.90],[215.87,2.79],[216.00,2.83],
[216.15,2.81],[216.30,2.95],[216.43,2.86],[216.58,2.97],[216.73,2.81],[216.86,2.86],[217.01,2.83],[217.16,2.93],[217.29,2.95],[217.45,2.93],
[217.55,2.97]
];

// Final run (1e-9 C)
const collectedFinal = [
[206.00,3.09],[206.18,3.16],[206.33,3.12],[206.48,3.11],[206.65,3.06],[206.80,3.20],[206.93,3.06],[207.09,3.16],[207.24,3.06],[207.37,3.16],
[207.52,3.11],[207.67,3.16],[207.80,3.09],[207.95,3.06],[208.10,3.20],[208.23,3.11],[208.38,3.13],[208.53,3.20],[208.66,3.06],[208.81,3.11],
[208.96,3.06],[209.09,3.02],[209.24,3.11],[209.40,3.06],[209.53,3.23],[209.68,3.09],[209.83,3.11],[209.96,3.13],[210.11,3.02],[210.26,3.11],
[210.39,3.06],[210.54,3.02],[210.69,2.93],[210.82,2.93],[210.97,2.97],[211.12,2.86],[211.25,2.93],[211.40,2.93],[211.55,2.95],[211.68,2.93],
[211.83,2.97],[211.99,2.90],[212.11,2.95],[212.27,2.93],[212.42,2.97],[212.55,2.86],[212.70,2.93],[212.85,2.93],[212.98,2.95],[213.13,3.00],
[213.28,2.83],[213.41,2.95],[213.56,2.93],[213.71,3.02],[213.84,2.88],[213.99,2.93],[214.14,2.95],[214.27,2.93],[214.42,3.00],[214.57,2.88],
[214.70,2.93],[214.86,2.86],[215.01,2.93],[215.14,2.93],[215.29,2.86],[215.44,2.93],[215.57,2.86],[215.72,2.76],[215.87,2.95],[216.00,2.93],
[216.15,3.02],[216.30,2.93],[216.43,3.02],[216.58,2.76],[216.73,2.86],[216.86,2.83],[217.01,2.93],[217.16,2.90],[217.29,2.95],[217.45,2.97],
[217.55,3.00]
];

// Axis settings
const timeExtent = [-11.49, 217.70];          // seconds after 17:21:00
const beamDomain = [-0.802, 1.797];            // 1e-8 C
const collectedDomain = [-3.405, 7.293];       // 1e-9 C
const beamTicks = [-0.5, 0.0, 0.5, 1.0, 1.5];
const collectedTicks = [-2, 0, 2, 4, 6];
const timeTickStep = 30;                       // seconds

const titleText = "Bergoz and integrated waveform charge (sync.)";
const beamLabel = "beam charge [C]";
const collectedLabel = "collected charge [C]";
const timeLabel = "time";
const beamExponent = "1e\u22128";
const collectedExponent = "1e\u22129";

const C_BEAM = "#1f77b4";
const C_AXIS2 = "#ff7f0e";
const C_LIME = "#00ff00";
const C_LATE = "#55aa00";
const C_FINAL = "#33cc00";

// ---------------------------------------------------------------
const W = 3869, H = 2013;
const plot = { left: 205, right: 3744, top: 69, bottom: 1907 };
const FS = 33;           // 10 pt at the figure resolution
const TICK = 11.7, TICK_W = 2.67, PAD = 11.7, LW = 5;

const refTime = new Date(2000, 0, 1, 17, 21, 0);
const toDate = s => new Date(refTime.getTime() + s * 1000);

const svg = d3.select("#chart");
svg.append("rect").attr("width", W).attr("height", H).attr("fill", "#ffffff");

const x = d3.scaleTime().domain(timeExtent.map(toDate)).range([plot.left, plot.right]);
const yBeam = d3.scaleLinear().domain(beamDomain).range([plot.bottom, plot.top]);
const yColl = d3.scaleLinear().domain(collectedDomain).range([plot.bottom, plot.top]);

svg.append("defs").append("clipPath").attr("id", "plotClip")
  .append("rect").attr("x", plot.left).attr("y", plot.top)
  .attr("width", plot.right - plot.left).attr("height", plot.bottom - plot.top);

const layer = svg.append("g").attr("clip-path", "url(#plotClip)");

function drawSeries(data, yScale, color) {
  const line = d3.line().x(d => x(toDate(d[0]))).y(d => yScale(d[1]));
  layer.append("path").datum(data)
    .attr("d", line)
    .attr("fill", "none")
    .attr("stroke", color)
    .attr("stroke-width", LW)
    .attr("stroke-linejoin", "round")
    .attr("stroke-linecap", "butt");
}

drawSeries(beamCharge, yBeam, C_BEAM);
drawSeries(collectedMain, yColl, C_LIME);
drawSeries(collectedOverlap, yColl, C_LIME);
drawSeries(collectedLate, yColl, C_LATE);
drawSeries(collectedFinal, yColl, C_FINAL);

// Axes
const minus = s => s.replace("-", "\u2212");
const fmtBeam = v => minus(d3.format(".1f")(v));
const fmtColl = v => minus(d3.format("d")(v));

const xTicks = d3.range(0, timeExtent[1] + 0.001, timeTickStep).map(toDate);

const xAxis = d3.axisBottom(x).tickValues(xTicks)
  .tickFormat(d3.timeFormat("%H:%M:%S")).tickSize(TICK).tickPadding(PAD + 3);
const yAxisL = d3.axisLeft(yBeam).tickValues(beamTicks)
  .tickFormat(fmtBeam).tickSize(TICK).tickPadding(PAD);
const yAxisR = d3.axisRight(yColl).tickValues(collectedTicks)
  .tickFormat(fmtColl).tickSize(TICK).tickPadding(PAD);

function styleAxis(g, textColor) {
  g.select(".domain").remove();
  g.selectAll(".tick line").attr("stroke", "#000").attr("stroke-width", TICK_W);
  g.selectAll(".tick text").attr("fill", textColor)
    .attr("font-size", FS).attr("font-family", "DejaVu Sans");
}

const gx = svg.append("g").attr("transform", `translate(0,${plot.bottom})`).call(xAxis);
styleAxis(gx, "#000");
gx.selectAll(".tick text").attr("dy", "0.71em");

const gl = svg.append("g").attr("transform", `translate(${plot.left},0)`).call(yAxisL);
styleAxis(gl, C_BEAM);
gl.selectAll(".tick text").attr("dy", "0.38em");

const gr = svg.append("g").attr("transform", `translate(${plot.right},0)`).call(yAxisR);
styleAxis(gr, C_AXIS2);
gr.selectAll(".tick text").attr("dy", "0.38em");

// Frame
svg.append("rect")
  .attr("x", plot.left).attr("y", plot.top)
  .attr("width", plot.right - plot.left).attr("height", plot.bottom - plot.top)
  .attr("fill", "none").attr("stroke", "#000").attr("stroke-width", TICK_W)
  .attr("stroke-linejoin", "miter");

// Texts
svg.append("text").attr("x", (plot.left + plot.right) / 2).attr("y", 50)
  .attr("text-anchor", "middle").attr("font-size", 40).attr("fill", "#000")
  .text(titleText);

svg.append("text").attr("x", (plot.left + plot.right) / 2).attr("y", 2004)
  .attr("text-anchor", "middle").attr("font-size", FS).attr("fill", "#000")
  .text(timeLabel);

svg.append("text").attr("x", plot.left).attr("y", 60)
  .attr("text-anchor", "start").attr("font-size", FS).attr("fill", C_BEAM)
  .text(beamExponent);

svg.append("text").attr("x", plot.right).attr("y", 60)
  .attr("text-anchor", "end").attr("font-size", FS).attr("fill", C_AXIS2)
  .text(collectedExponent);

const midY = (plot.top + plot.bottom) / 2;
svg.append("text")
  .attr("transform", `translate(81,${midY}) rotate(-90)`)
  .attr("text-anchor", "middle").attr("font-size", FS).attr("fill", C_BEAM)
  .text(beamLabel);

svg.append("text")
  .attr("transform", `translate(3854,${midY}) rotate(-90)`)
  .attr("text-anchor", "middle").attr("font-size", FS).attr("fill", C_AXIS2)
  .text(collectedLabel);
</script>
</body>
</html>
